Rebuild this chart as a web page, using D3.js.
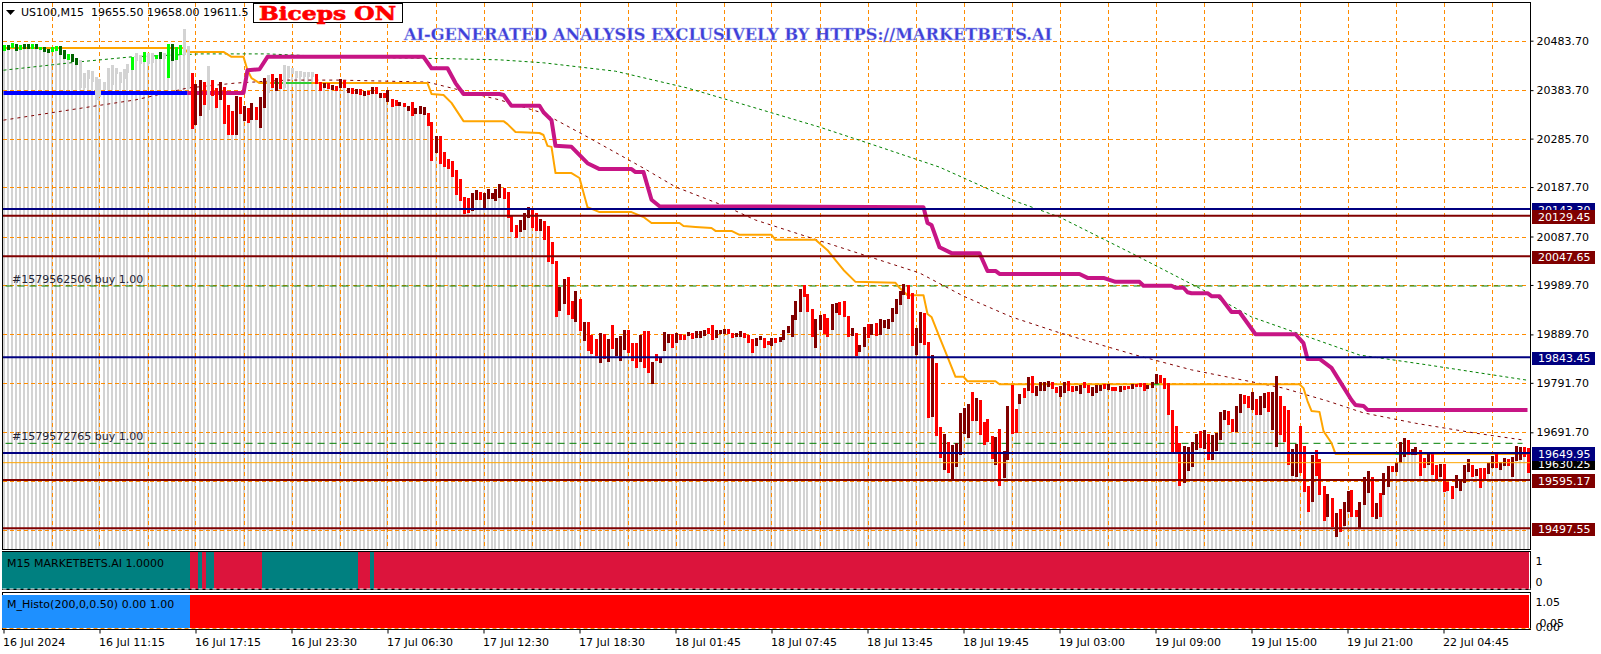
<!DOCTYPE html>
<html><head><meta charset="utf-8">
<script src="https://cdn.jsdelivr.net/npm/d3@7/dist/d3.min.js"></script>
<style>
html,body{margin:0;padding:0;background:#fff;overflow:hidden}
svg{display:block}
text{font-family:"DejaVu Sans",sans-serif;font-size:11px;fill:#000}
</style></head><body>
<svg id="c" width="1601" height="654"></svg>
<script>
// Candle bodies, one row per ten bars: upper and lower price of each body
const bodyTop=[
20475,20475,20479,20477,20475,20477,20477,20477,20477,20471,
20471,20467,20471,20473,20473,20465,20457,20457,20449,20445,
20418,20424,20422,20410,20406,20400,20428,20435,20428,20420,
20426,20437,20451,20459,20455,20461,20459,20459,20455,20461,
20459,20477,20477,20471,20475,20507,20473,20418,20396,20404,
20400,20433,20404,20388,20400,20390,20354,20342,20372,20370,
20352,20348,20358,20350,20370,20408,20414,20416,20408,20416,
20435,20433,20428,20422,20422,20420,20420,20420,20416,20400,
20398,20398,20394,20392,20406,20404,20388,20388,20386,20386,
20382,20382,20390,20390,20378,20378,20384,20366,20364,20360,
20358,20352,20360,20348,20352,20350,20337,20319,20290,20290,
20259,20244,20240,20222,20204,20168,20166,20176,20182,20178,
20176,20184,20176,20184,20194,20186,20178,20131,20111,20121,
20135,20147,20145,20135,20123,20119,20109,20077,20038,19986,
20002,20006,19957,19977,19961,19915,19915,19888,19880,19893,
19890,19880,19909,19882,19886,19899,19899,19872,19872,19888,
19897,19897,19834,19850,19844,19895,19890,19890,19893,19890,
19888,19895,19893,19897,19897,19899,19903,19909,19899,19899,
19901,19901,19893,19893,19897,19893,19888,19880,19882,19886,
19882,19876,19882,19882,19884,19899,19907,19929,19957,19981,
19990,19971,19941,19921,19929,19931,19923,19951,19953,19955,
19957,19927,19903,19893,19868,19905,19911,19911,19913,19921,
19919,19921,19943,19961,19977,19992,19990,19973,19903,19935,
19933,19874,19848,19832,19702,19688,19672,19666,19670,19731,
19741,19749,19773,19761,19757,19713,19719,19684,19682,19698,
19654,19745,19787,19739,19769,19781,19804,19806,19785,19793,
19793,19795,19793,19783,19785,19793,19795,19785,19785,19787,
19793,19787,19783,19787,19787,19789,19789,19783,19783,19785,
19785,19785,19789,19789,19791,19791,19787,19793,19810,19808,
19801,19791,19737,19704,19670,19664,19662,19672,19688,19694,
19696,19688,19686,19690,19733,19737,19735,19719,19745,19769,
19767,19765,19773,19759,19765,19771,19773,19773,19806,19765,
19745,19737,19658,19668,19704,19664,19583,19646,19656,19638,
19583,19567,19559,19528,19537,19551,19573,19575,19535,19551,
19601,19613,19601,19549,19569,19609,19624,19624,19632,19672,
19680,19676,19658,19662,19656,19640,19650,19650,19626,19628,
19628,19591,19583,19605,19595,19626,19638,19626,19617,19619,
19619,19630,19644,19650,19632,19640,19638,19642,19664,19662,
19662,19660];
const bodyBottom=[
20463,20465,20469,20463,20465,20467,20467,20467,20467,20465,
20461,20459,20461,20463,20455,20447,20445,20441,20435,20388,
20388,20406,20400,20364,20370,20384,20384,20394,20416,20398,
20406,20418,20424,20443,20437,20441,20437,20439,20447,20447,
20447,20408,20443,20445,20455,20455,20386,20305,20313,20331,
20354,20344,20372,20348,20364,20315,20293,20293,20293,20335,
20321,20317,20323,20323,20307,20348,20378,20388,20382,20386,
20388,20408,20416,20408,20410,20410,20410,20410,20396,20382,
20388,20386,20384,20382,20388,20388,20378,20376,20376,20374,
20372,20374,20376,20376,20368,20368,20360,20350,20352,20352,
20350,20342,20331,20335,20335,20333,20311,20240,20257,20234,
20228,20224,20208,20172,20159,20133,20135,20139,20162,20162,
20145,20164,20164,20159,20166,20164,20125,20097,20085,20097,
20101,20125,20105,20099,20099,20081,20036,20032,19925,19937,
19951,19929,19921,19915,19897,19876,19856,19850,19846,19832,
19840,19834,19860,19846,19836,19858,19852,19836,19822,19834,
19822,19812,19789,19836,19832,19856,19872,19862,19872,19878,
19878,19886,19880,19882,19882,19886,19890,19878,19882,19890,
19890,19890,19882,19884,19884,19882,19872,19852,19866,19878,
19862,19868,19866,19872,19874,19878,19893,19884,19919,19935,
19965,19935,19884,19862,19899,19890,19884,19899,19933,19929,
19925,19884,19886,19846,19854,19864,19882,19888,19886,19888,
19903,19901,19915,19931,19949,19969,19961,19866,19848,19872,
19868,19721,19723,19684,19640,19615,19609,19595,19621,19646,
19688,19680,19715,19715,19686,19666,19672,19638,19626,19583,
19599,19636,19688,19690,19749,19761,19775,19771,19765,19775,
19775,19783,19779,19771,19763,19771,19775,19773,19775,19769,
19781,19771,19765,19771,19775,19779,19777,19775,19775,19773,
19777,19779,19779,19783,19783,19775,19779,19781,19789,19791,
19779,19727,19650,19650,19583,19589,19613,19621,19656,19660,
19658,19636,19636,19654,19676,19717,19706,19692,19692,19731,
19749,19741,19737,19727,19727,19741,19733,19696,19662,19686,
19672,19626,19603,19601,19609,19571,19530,19551,19603,19565,
19512,19520,19500,19480,19490,19502,19530,19520,19520,19498,
19544,19569,19520,19516,19520,19565,19581,19611,19611,19630,
19642,19646,19646,19646,19603,19619,19626,19605,19595,19601,
19571,19573,19557,19579,19573,19589,19611,19601,19603,19579,
19593,19607,19619,19619,19615,19624,19624,19601,19634,19636,
19642,19609];
// l lime, g dark green, s silver, r red, d dark red
const bodyState=
"lglglgglgl"+"ggllgglggs"+"ssssssssss"+"sslsslsslg"+"slgllssrdd"+
"rsrrdrrrdr"+"drdrddsrdr"+"ssssssssrr"+"drdrdrdrdr"+"drdrdrdrrd"+
"rdrdddrrdr"+"rrrrrrrddr"+"dddddrrrrd"+"ddrrdrrrrd"+"drrdrdrrrd"+
"rdrdddrrrd"+"rrdrdddrdr"+"rdrdddrrdd"+"drrddrrrdd"+"rrdrdddddd"+
"rrrddrrddr"+"rrdrddrdrd"+"ddddddrrdd"+"rrdrrdrddd"+"ddrdrrrrdr"+
"ddrrdrdrdd"+"ddrrddrrdd"+"rrdddrdrrd"+"rrdrrrdddr"+"rrrrrddddr"+
"drddddrrdd"+"rrdrddrddr"+"rrddrrrdrr"+"rdrdrddrrd"+"ddrdrddrdd"+
"drddrrdrrd"+"rrrddddrdr"+"rddrddrddd"+"rr";

// Orange trailing line
const orangeBar=[0,45,46,55,57,60,61,62,64,106,107,110,112,115,125,126,128,134,135,136,137,138,142,144,146,149,157,160,162,169,170,173,177,178,182,184,192,193,203,206,208,210,213,223,224,226,230,231,232,234,236,238,240,241,248,249,324,325,326,327,329,330,332,333,381];
const orangePrice=[20469,20469,20461,20461,20451,20451,20424,20408,20398,20398,20376,20374,20358,20321,20321,20315,20299,20297,20293,20271,20269,20216,20216,20206,20147,20137,20137,20127,20115,20115,20109,20107,20105,20099,20099,20091,20091,20081,20081,20060,20040,20020,19996,19994,19984,19969,19969,19931,19925,19884,19844,19804,19804,19795,19795,19789,19789,19781,19755,19735,19733,19694,19670,19648,19648];
// Magenta trailing line
const magentaBar=[46,60,61,64,66,105,107,111,113,115,124,125,127,134,135,137,138,142,146,149,157,158,160,162,164,230,231,232,234,237,244,246,248,249,269,271,275,278,284,285,292,293,295,296,297,301,302,304,307,309,313,323,325,326,329,332,337,338,340,341,381];
const magentaPrice=[20378,20378,20424,20426,20451,20451,20428,20428,20398,20376,20376,20374,20352,20352,20339,20323,20271,20269,20236,20224,20224,20218,20218,20162,20149,20147,20115,20111,20066,20054,20054,20018,20018,20012,20012,20004,20004,19996,19996,19988,19988,19984,19984,19975,19973,19973,19967,19967,19935,19935,19890,19890,19872,19840,19840,19822,19757,19747,19745,19737,19737];
// Blue line before the magenta one
const blueBar=[0,46];
const bluePrice=[20378,20378];
// Slow green moving average
const greenMaBar=[0,19,32,49,66,83,113,124,135,153,171,187,204,216,234,253,264,282,300,312,339,356,381];
const greenMaPrice=[20424,20441,20451,20457,20457,20451,20447,20445,20439,20422,20388,20350,20309,20277,20228,20159,20127,20054,19979,19925,19848,19828,19797];
// Dark red moving average
const redMaBar=[0,20,33,46,58,71,84,106,119,124,135,146,160,168,181,188,229,240,252,264,283,297,320,331,340,353,368,380];
const redMaPrice=[20323,20348,20364,20388,20398,20404,20404,20400,20374,20364,20337,20289,20226,20188,20147,20121,20014,19967,19925,19893,19848,19818,19781,19755,19731,19710,19690,19676];
// Short green stretches on the orange line
const limeStart=[67,287,348];
const limeEnd=[77,289,353];
const limePrice=[20398,19789,19648];

// Horizontal levels
const levelPrice=[19630.25,20143.30,20129.45,20047.65,19843.45,19649.95,19595.17,19497.55];
const levelKind=["thin","navy","maroon","maroon","navy","navy","maroon","maroon"];
const buyPrice=[19987.6,19669.4];
const buyLabel=["#1579562506 buy 1.00","#1579572765 buy 1.00"];

// Axis labels
const priceTicks=[20483.70,20383.70,20285.70,20187.70,20087.70,19989.70,19889.70,19791.70,19691.70];
const hiddenGrid=[19592.7,19493.5];
const timeLabels=["16 Jul 2024","16 Jul 11:15","16 Jul 17:15","16 Jul 23:30","17 Jul 06:30","17 Jul 12:30","17 Jul 18:30","18 Jul 01:45","18 Jul 07:45","18 Jul 13:45","18 Jul 19:45","19 Jul 03:00","19 Jul 09:00","19 Jul 15:00","19 Jul 21:00","22 Jul 04:45"];

// Lower panels: state runs by first bar
const signalStart=[0,47,49,50,51,53,65,89,92,93];
const signalState=[1,0,1,0,1,0,1,0,1,0];
const histoStart=[0,47];
const histoState=[1,0];
const signalTicks=[1,0];
const histoTicks=[1.05,0.00];
const histoExtra=[0.05];

const barCount=bodyTop.length;
const svg=d3.select("#c");
const plotL=2.5,plotR=1530.5,mainT=2.5,mainB=549.5;
const sigT=551.5,sigB=589.5,hisT=592.5,hisB=629.5;

const x=d3.scaleLinear().domain([0,381]).range([3.5,1527.5]);
const y=d3.scaleLinear().domain([20483.7,19691.7]).range([40.7,432.3]);
const ySig=d3.scaleLinear().domain([0,1]).range([582.3,560.7]);
const yHis=d3.scaleLinear().domain([0,1.05]).range([626.7,601.7]);
const fillOf=d3.scaleOrdinal(["l","g","s","r","d"],["#00ff00","#006400","#d3d3d3","#ff0000","#800000"]);
const bars=d3.range(barCount);

svg.append("clipPath").attr("id","mainClip").append("rect").attr("x",plotL).attr("y",mainT).attr("width",plotR-plotL).attr("height",mainB-mainT);
const main=svg.append("g").attr("clip-path","url(#mainClip)");

// grey stripes under every bar
main.append("g").attr("shape-rendering","crispEdges").selectAll("rect").data(bars).join("rect")
 .attr("x",i=>Math.round(x(i))-1).attr("width",2)
 .attr("y",i=>y(bodyBottom[i])).attr("height",i=>Math.max(0,mainB-y(bodyBottom[i])))
 .attr("fill","#d3d3d3");

// dashed grid
const gridG=main.append("g").attr("stroke","#ff8c00").attr("stroke-width",1).attr("stroke-dasharray","4,3").attr("shape-rendering","crispEdges");
gridG.selectAll("line.h").data(priceTicks.concat(hiddenGrid)).join("line").attr("class","h")
 .attr("x1",plotL).attr("x2",plotR-3).attr("y1",d=>Math.round(y(d))+.5).attr("y2",d=>Math.round(y(d))+.5);
gridG.selectAll("line.v").data(d3.range(12,382,12)).join("line").attr("class","v")
 .attr("x1",d=>Math.round(x(d))+.5).attr("x2",d=>Math.round(x(d))+.5).attr("y1",mainT).attr("y2",mainB);

// buy levels
main.append("g").selectAll("line").data(buyPrice).join("line")
 .attr("x1",plotL+3).attr("x2",plotR-8).attr("y1",d=>y(d)).attr("y2",d=>y(d))
 .attr("stroke","#008000").attr("stroke-dasharray","7,5").attr("stroke-width",1);

// lines
const line=d3.line().x(d=>x(d[0])).y(d=>y(d[1]));
function pairs(a,b){return a.map((v,i)=>[v,b[i]]);}
function drawLine(a,b,col,w,dash){
 const p=main.append("path").datum(pairs(a,b)).attr("d",line).attr("fill","none").attr("stroke",col).attr("stroke-width",w).attr("stroke-linejoin","round");
 if(dash)p.attr("stroke-dasharray",dash);
}
drawLine(greenMaBar,greenMaPrice,"#008000",1,"3,3");
drawLine(redMaBar,redMaPrice,"#800000",1,"3,4");
drawLine(orangeBar,orangePrice,"#ffa500",2);
drawLine(blueBar,bluePrice,"#0000ff",4);
drawLine(magentaBar,magentaPrice,"#c71585",4);
main.append("g").selectAll("line").data(limeStart).join("line")
 .attr("x1",d=>x(d)).attr("x2",(d,i)=>x(limeEnd[i])).attr("y1",(d,i)=>y(limePrice[i])).attr("y2",(d,i)=>y(limePrice[i]))
 .attr("stroke","#32cd32").attr("stroke-width",2);

// bodies
main.append("g").attr("shape-rendering","crispEdges").selectAll("rect").data(bars).join("rect")
 .attr("x",i=>Math.round(x(i))-1.5).attr("width",3)
 .attr("y",i=>y(bodyTop[i])).attr("height",i=>y(bodyBottom[i])-y(bodyTop[i]))
 .attr("fill",i=>fillOf(bodyState[i]));

// horizontal levels
const levelColor={thin:"#ffa500",navy:"#000080",maroon:"#800000"};
const boxColor={thin:"#000000",navy:"#000080",maroon:"#800000"};
main.append("g").selectAll("line").data(levelPrice).join("line")
 .attr("x1",plotL).attr("x2",plotR).attr("y1",d=>y(d)).attr("y2",d=>y(d))
 .attr("stroke",(d,i)=>levelColor[levelKind[i]]).attr("stroke-width",(d,i)=>levelKind[i]==="thin"?1:2);

// buy labels
svg.append("g").selectAll("text").data(buyLabel).join("text")
 .attr("x",12).attr("y",(d,i)=>y(buyPrice[i])-7).attr("dy","0.35em").style("fill","#223").text(d=>d);

// frames
[[mainT,mainB],[sigT,sigB],[hisT,hisB]].forEach(r=>{
 svg.append("rect").attr("x",plotL).attr("y",r[0]).attr("width",plotR-plotL).attr("height",r[1]-r[0])
  .attr("fill","none").attr("stroke","#000").attr("shape-rendering","crispEdges");
});

// signal panels
function panel(starts,states,top,bottom,col1,col0){
 const left=i=>Math.round(x(starts[i])-1.5);
 const right=i=>i+1<starts.length?left(i+1):1529;
 svg.append("g").attr("shape-rendering","crispEdges").selectAll("rect").data(starts).join("rect")
  .attr("x",(d,i)=>left(i)).attr("y",top).attr("height",bottom-top)
  .attr("width",(d,i)=>right(i)-left(i))
  .attr("fill",(d,i)=>states[i]?col1:col0);
}
panel(signalStart,signalState,552,589,"#008080","#dc143c");
panel(histoStart,histoState,595,628,"#1e90ff","#ff0000");
svg.append("line").attr("x1",plotL).attr("x2",plotR).attr("y1",589).attr("y2",589).attr("stroke","#fff").attr("stroke-dasharray","4,3");
svg.append("line").attr("x1",plotL).attr("x2",plotR).attr("y1",628.5).attr("y2",628.5).attr("stroke","#ff8c00").attr("stroke-dasharray","4,3");
svg.append("text").attr("x",7).attr("y",562.7).attr("dy","0.35em").text("M15 MARKETBETS.AI 1.0000");
svg.append("text").attr("x",7).attr("y",604).attr("dy","0.35em").text("M_Histo(200,0,0.50) 0.00 1.00");

// right axes
function styleAxis(g){g.attr("font-family",null).attr("font-size",null);g.select(".domain").remove();
 g.selectAll("line").attr("stroke","#000");g.selectAll("text").attr("fill","#000");}
svg.append("g").attr("transform",`translate(${plotR},0)`)
 .call(d3.axisRight(y).tickValues(priceTicks).tickFormat(d3.format(".2f")).tickSize(3).tickPadding(3)).call(styleAxis);
svg.append("g").attr("transform",`translate(${plotR},0)`)
 .call(d3.axisRight(ySig).tickValues(signalTicks).tickFormat(d3.format("d")).tickSize(0).tickPadding(5)).call(styleAxis);
svg.append("g").attr("transform",`translate(${plotR},0)`)
 .call(d3.axisRight(yHis).tickValues(histoTicks).tickFormat(d3.format(".2f")).tickSize(0).tickPadding(5)).call(styleAxis);
svg.append("g").attr("transform",`translate(${plotR+4},-3)`)
 .call(d3.axisRight(yHis).tickValues(histoExtra).tickFormat(d3.format(".2f")).tickSize(0).tickPadding(5)).call(styleAxis);

// level boxes
const boxes=svg.append("g").selectAll("g").data(levelPrice).join("g");
boxes.append("rect").attr("x",1532).attr("width",63).attr("height",13.4)
 .attr("y",d=>y(d)+1-6.7).attr("fill",(d,i)=>boxColor[levelKind[i]]).attr("shape-rendering","crispEdges");
boxes.append("text").attr("x",1538).attr("y",d=>y(d)+1).attr("dy","0.35em").style("fill","#fff").text(d=>d3.format(".2f")(d));

// time axis
svg.append("g").attr("transform",`translate(0,${hisB})`)
 .call(d3.axisBottom(x).tickValues(timeLabels.map((d,i)=>i*24)).tickFormat((d,i)=>timeLabels[i]).tickSize(4).tickPadding(5)).call(styleAxis)
 .selectAll("text").attr("text-anchor","start").attr("dx","-1");

// header
svg.append("path").attr("d",d3.line()([[6,10],[15,10],[10.5,15]])+"Z").attr("fill","#000");
svg.append("text").attr("x",21).attr("y",12.5).attr("dy","0.35em").style("white-space","pre").text("US100,M15  19655.50 19658.00 19611.5");
svg.append("rect").attr("x",253.5).attr("y",3.5).attr("width",149).attr("height",19).attr("fill","#fff").attr("stroke","#000").attr("stroke-width",1);
svg.append("text").attr("x",259).attr("y",14).attr("dy","0.35em").attr("textLength",137).attr("lengthAdjust","spacingAndGlyphs")
 .style("font-family","'DejaVu Serif',serif").style("font-size","18px").style("font-weight","bold").style("fill","#ff0000").style("stroke","#ff0000").style("stroke-width","0.6px").text("Biceps ON");
svg.append("text").attr("x",404).attr("y",34.5).attr("dy","0.35em").attr("textLength",648).attr("lengthAdjust","spacingAndGlyphs")
 .style("font-family","'DejaVu Serif',serif").style("font-size","17px").style("font-weight","bold").style("fill","#3f3fd8").style("stroke","#b4bcf0").style("stroke-width","0.3px")
 .text("AI-GENERATED ANALYSIS EXCLUSIVELY BY HTTPS://MARKETBETS.AI");
</script>
</body></html>
